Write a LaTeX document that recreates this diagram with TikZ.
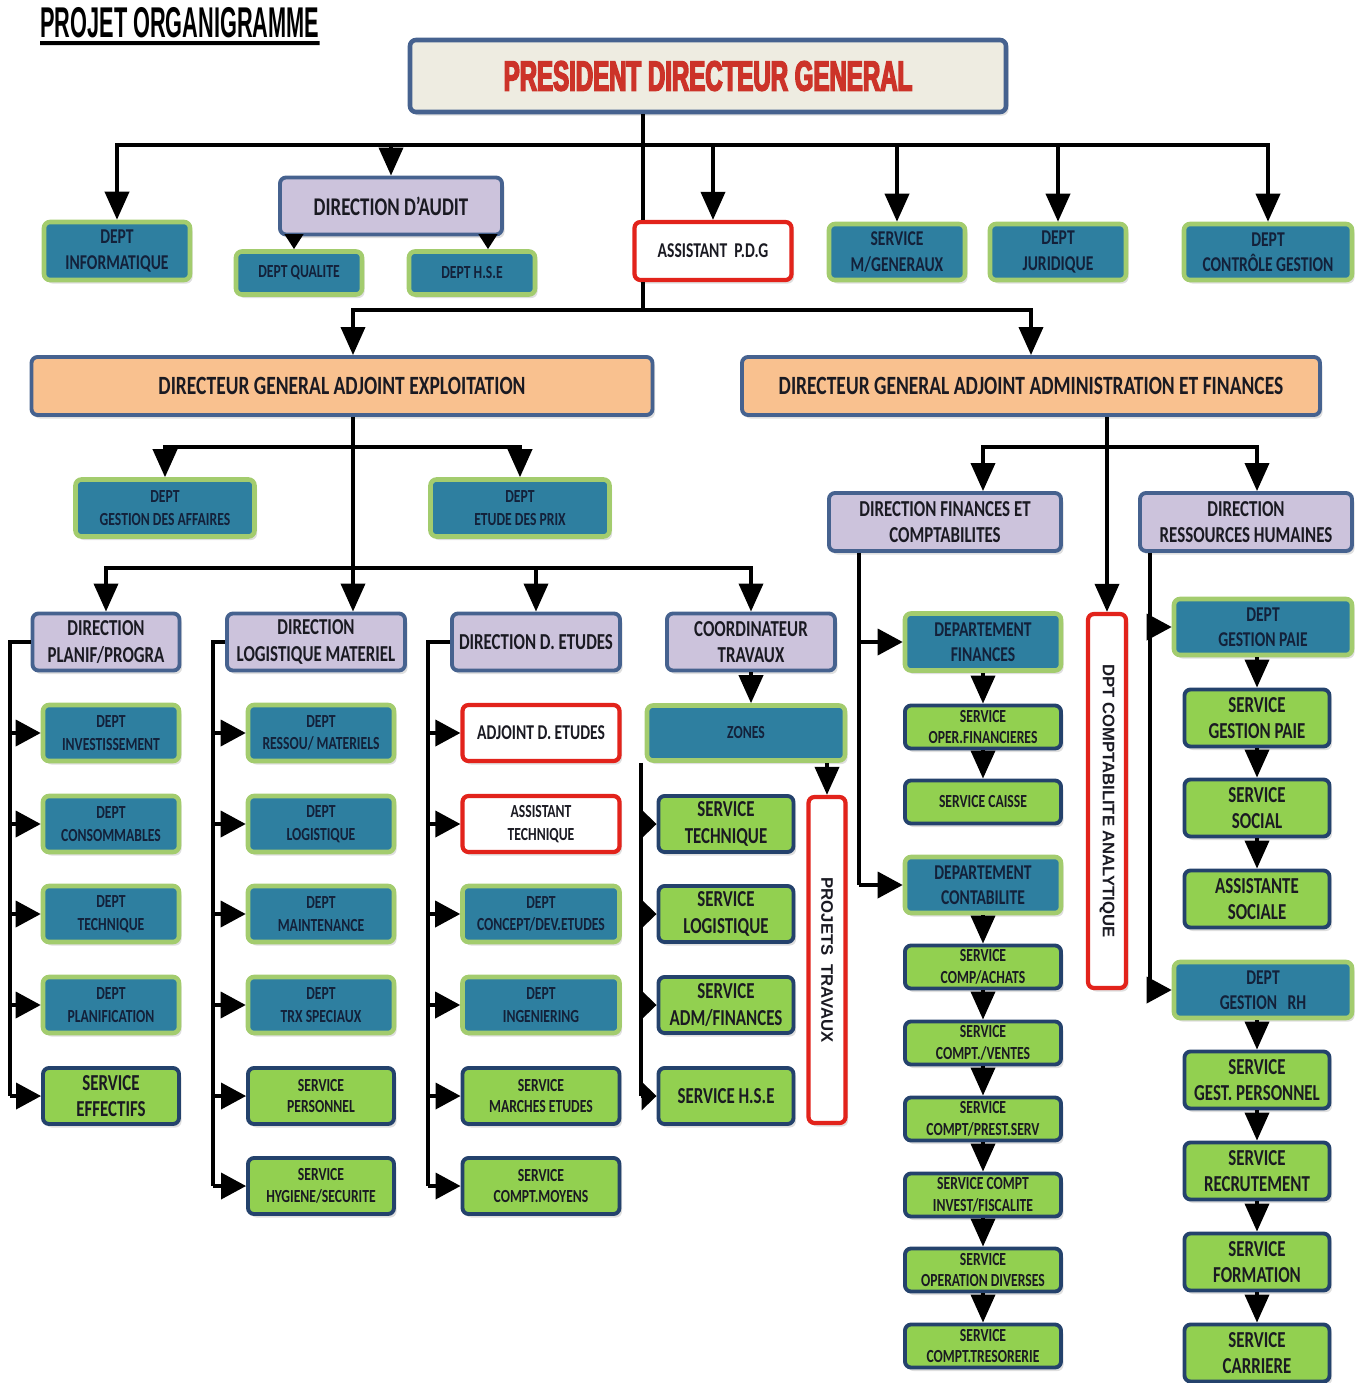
\documentclass[tikz,border=0pt]{standalone}
\usepackage{fontspec}
\setmainfont{Carlito}[FakeStretch=0.74]
\newfontfamily\titlefont{Liberation Sans}[FakeStretch=0.505]
\newfontfamily\pdgfont{Liberation Sans}[FakeStretch=0.57,FakeBold=3.5]
\newfontfamily\vertfont{Liberation Sans}
\usetikzlibrary{arrows.meta,shadows}

\definecolor{cream}{HTML}{EEECE1}
\definecolor{bordblue}{HTML}{46628F}
\definecolor{orangefill}{HTML}{F9C18F}
\definecolor{lavender}{HTML}{CCC3DC}
\definecolor{tealfill}{HTML}{2E7FA0}
\definecolor{tealedge}{HTML}{A3CC6E}
\definecolor{greenfill}{HTML}{92D050}
\definecolor{navyedge}{HTML}{24426C}
\definecolor{alertred}{HTML}{E2231B}
\definecolor{pdgred}{HTML}{CC3329}
\definecolor{inktext}{HTML}{1A1A22}
\definecolor{tealtext}{HTML}{13213A}

\begin{document}
\begin{tikzpicture}[x=0.02cm,y=-0.02cm,
  sz/.style 2 args={minimum width=#1*0.02cm,minimum height=#2*0.02cm},
  box/.style={rounded corners=0.12cm,align=center,inner sep=1pt,text=inktext,
    drop shadow={shadow xshift=0.05cm,shadow yshift=-0.07cm,opacity=0.25}},
  pdgbox/.style={box,fill=cream,draw=bordblue,line width=2.6pt},
  dgabox/.style={box,fill=orangefill,draw=bordblue,line width=2.2pt,
    font=\bfseries\fontsize{15}{18}\selectfont},
  dirbox/.style={box,fill=lavender,draw=bordblue,line width=2.2pt,
    font=\bfseries\fontsize{13}{15}\selectfont},
  deptbox/.style={box,fill=tealfill,draw=tealedge,line width=2.6pt,text=tealtext,
    font=\bfseries\fontsize{10.5}{13}\selectfont},
  deptbig/.style={deptbox,font=\bfseries\fontsize{12}{14.5}\selectfont},
  servbox/.style={box,fill=greenfill,draw=navyedge,line width=2.2pt,
    font=\bfseries\fontsize{13}{15}\selectfont},
  servsm/.style={servbox,font=\bfseries\fontsize{10.5}{12.5}\selectfont},
  asstbox/.style={box,fill=white,draw=alertred,line width=2.4pt,
    font=\bfseries\fontsize{12}{14}\selectfont},
  asstsm/.style={asstbox,font=\bfseries\fontsize{10.5}{13}\selectfont},
  ln/.style={line width=2.1pt},
  arr/.style={ln,-{Triangle[length=0.56cm,width=0.48cm]}},
  arrh/.style={ln,-{Triangle[length=0.5cm,width=0.52cm]}},
  arrs/.style={ln,-{Triangle[length=0.3cm,width=0.36cm]}},
  arrz/.style={ln,-{Triangle[length=0.3cm,width=0.56cm]}}]
\useasboundingbox (0,0) rectangle (1362,1383);

% title
\node[anchor=north west,inner sep=0pt] (ttl) at (40,7)
  {\titlefont\bfseries\fontsize{24.5}{28}\selectfont PROJET ORGANIGRAMME};
\draw[line width=0.08cm] (ttl.south west) ++(0,5) -- ([yshift=-0.1cm]ttl.south east);

% president and first row
\node[pdgbox,sz={596}{72}] (pdg) at (708,76)
  {\pdgfont\bfseries\fontsize{24}{28}\selectfont\textcolor{pdgred}{PRESIDENT DIRECTEUR GENERAL}};
\node[deptbig,sz={146}{58}] (info) at (117,251) {DEPT\\INFORMATIQUE};
\node[dirbox,sz={222}{57},font=\bfseries\fontsize{14.5}{17}\selectfont] (audit) at (391,206) {DIRECTION D’AUDIT};
\node[deptbox,sz={126}{43}] (qual) at (299,273) {DEPT QUALITE};
\node[deptbox,sz={126}{43}] (hse) at (472,273) {DEPT H.S.E};
\node[asstbox,sz={157}{58}] (asst) at (713,251) {ASSISTANT\,\ P.D.G};
\node[deptbig,sz={136}{56}] (mgen) at (897,252) {SERVICE\\M/GENERAUX};
\node[deptbig,sz={136}{56}] (jur) at (1058,252) {DEPT\\JURIDIQUE};
\node[deptbig,sz={168}{56}] (ctrl) at (1268,252) {DEPT\\CONTRÔLE GESTION};

% deputy directors
\node[dgabox,sz={621}{58}] (dgae) at (342,386) {DIRECTEUR GENERAL ADJOINT EXPLOITATION};
\node[dgabox,sz={578}{58}] (dgaa) at (1031,386) {DIRECTEUR GENERAL ADJOINT ADMINISTRATION ET FINANCES};

\node[deptbox,sz={179}{57}] (gaff) at (165,508) {DEPT\\GESTION DES AFFAIRES};
\node[deptbox,sz={179}{57}] (eprix) at (520,508) {DEPT\\ETUDE DES PRIX};
\node[dirbox,sz={232}{58}] (dfin) at (945,522) {DIRECTION FINANCES ET\\COMPTABILITES};
\node[dirbox,sz={212}{58}] (drh) at (1246,522) {DIRECTION\\RESSOURCES HUMAINES};

\node[dirbox,sz={147}{57}] (dplan) at (106,642) {DIRECTION\\PLANIF/PROGRA};
\node[dirbox,sz={178}{57}] (dlog) at (316,642) {DIRECTION\\LOGISTIQUE MATERIEL};
\node[dirbox,sz={168}{57}] (detud) at (536,642) {DIRECTION D. ETUDES};
\node[dirbox,sz={168}{57}] (coord) at (751,642) {COORDINATEUR\\TRAVAUX};

% exploitation columns
\foreach \nm/\yy/\sty/\txt in {inv/733/deptbox/{DEPT\\INVESTISSEMENT},
    cons/824/deptbox/{DEPT\\CONSOMMABLES},tech/914/deptbox/{DEPT\\TECHNIQUE},
    plan/1005/deptbox/{DEPT\\PLANIFICATION},eff/1096/servbox/{SERVICE\\EFFECTIFS}}
  {\node[\sty,sz={136}{56}] (\nm) at (111,\yy) {\txt};}
\foreach \nm/\yy/\sty/\txt in {res/733/deptbox/{DEPT\\RESSOU/ MATERIELS},
    logi/824/deptbox/{DEPT\\LOGISTIQUE},maint/914/deptbox/{DEPT\\MAINTENANCE},
    trx/1005/deptbox/{DEPT\\TRX SPECIAUX},pers/1096/servsm/{SERVICE\\PERSONNEL},
    hyg/1186/servsm/{SERVICE\\HYGIENE/SECURITE}}
  {\node[\sty,sz={146}{56}] (\nm) at (321,\yy) {\txt};}
\foreach \nm/\yy/\sty/\txt in {adj/733/asstbox/{ADJOINT D. ETUDES},
    asstec/824/asstsm/{ASSISTANT\\TECHNIQUE},conc/914/deptbox/{DEPT\\CONCEPT/DEV.ETUDES},
    ing/1005/deptbox/{DEPT\\INGENIERING},marc/1096/servsm/{SERVICE\\MARCHES ETUDES},
    cmoy/1186/servsm/{SERVICE\\COMPT.MOYENS}}
  {\node[\sty,sz={157}{56}] (\nm) at (541,\yy) {\txt};}

\node[deptbox,sz={198}{55}] (zones) at (746,733) {ZONES};
\foreach \nm/\yy/\txt in {stec/824/{SERVICE\\TECHNIQUE},slog/914/{SERVICE\\LOGISTIQUE},
    sadm/1005/{SERVICE\\ADM/FINANCES},shse/1096/{SERVICE H.S.E}}
  {\node[servbox,sz={135}{56}] (\nm) at (726,\yy) {\txt};}
\node[asstbox,rotate=-90,sz={326}{37}] (ptr) at (827,960)
  {\vertfont\bfseries\fontsize{9.5}{11}\selectfont PROJETS\enspace TRAVAUX};

% administration columns
\foreach \nm/\yy/\hh/\sty/\txt in {dfi/642/57/deptbig/{DEPARTEMENT\\FINANCES},
    sof/727/43/servsm/{SERVICE\\OPER.FINANCIERES},sca/802/43/servsm/{SERVICE CAISSE},
    dco/885/56/deptbig/{DEPARTEMENT\\CONTABILITE},sac/967/43/servsm/{SERVICE\\COMP/ACHATS},
    sve/1043/43/servsm/{SERVICE\\COMPT./VENTES},spr/1119/43/servsm/{SERVICE\\COMPT/PREST.SERV},
    sfi/1195/43/servsm/{SERVICE COMPT\\INVEST/FISCALITE},
    sod/1270/43/servsm/{SERVICE\\OPERATION DIVERSES},
    str/1346/43/servsm/{SERVICE\\COMPT.TRESORERIE}}
  {\node[\sty,sz={156}{\hh}] (\nm) at (983,\yy) {\txt};}
\node[asstbox,rotate=-90,sz={374}{38}] (dca) at (1107,801)
  {\vertfont\bfseries\fontsize{9.5}{11}\selectfont DPT COMPTABILITE ANALYTIQUE};

\node[deptbig,sz={178}{56}] (dgp) at (1263,627) {DEPT\\GESTION PAIE};
\node[deptbig,sz={178}{56}] (dgrh) at (1263,990) {DEPT\\GESTION\enspace RH};
\foreach \nm/\yy/\txt in {sgp/718/{SERVICE\\GESTION PAIE},soc/808/{SERVICE\\SOCIAL},
    asoc/899/{ASSISTANTE\\SOCIALE},sgpe/1080/{SERVICE\\GEST. PERSONNEL},
    srec/1171/{SERVICE\\RECRUTEMENT},sfor/1262/{SERVICE\\FORMATION},
    scar/1353/{SERVICE\\CARRIERE}}
  {\node[servbox,sz={145}{57}] (\nm) at (1257,\yy) {\txt};}

% connectors from the president
\coordinate (j0) at (643,145);
\coordinate (j1) at (643,310);
\draw[ln] (pdg.south -| j0) -- (j0);
\draw[ln] (j0) -- (asst.north -| j0);
\draw[ln] (asst.south -| j0) -- (j1);
\foreach \n in {info,audit,asst,mgen,jur,ctrl}
  \draw[arr] (j0) -| (\n);
\draw[arrs] ([xshift=-0.1cm]qual.north |- audit.south) -- ([xshift=-0.1cm]qual.north);
\draw[arrs] ([xshift=0.32cm]hse.north |- audit.south) -- ([xshift=0.32cm]hse.north);

% exploitation
\coordinate (e0) at (353,447);
\coordinate (e1) at (353,568);
\draw[arr] (j1) -| (dgae.north -| e0);
\draw[arr] (j1) -| (dgaa);
\draw[ln] (dgae.south -| e0) -- (e1);
\draw[arr] (e1) -- (dlog.north -| e1);
\draw[arr] (e0) -| (gaff);
\draw[arr] (e0) -| (eprix);
\foreach \n in {dplan,detud,coord}
  \draw[arr] (e1) -| (\n);

\coordinate (p0) at (10,0);
\coordinate (l0) at (213,0);
\coordinate (d0) at (428,0);
\coordinate (z0) at (641,0);
\draw[ln] (dplan.west) -| (p0 |- eff);
\foreach \n in {inv,cons,tech,plan,eff}
  \draw[arrh] (p0 |- \n) -- (\n);
\draw[ln] (dlog.west) -| (l0 |- hyg);
\foreach \n in {res,logi,maint,trx,pers,hyg}
  \draw[arrh] (l0 |- \n) -- (\n);
\draw[ln] (detud.west) -| (d0 |- cmoy);
\foreach \n in {adj,asstec,conc,ing,marc,cmoy}
  \draw[arrh] (d0 |- \n) -- (\n);
\draw[arr] (coord) -- (zones.north -| coord);
\draw[ln] (zones.south -| z0) -- (z0 |- shse);
\foreach \n in {stec,slog,sadm,shse}
  \draw[arrz] (z0 |- \n) -- (\n);
\draw[arr] (zones.south -| ptr) -- (ptr);

% administration et finances
\coordinate (a0) at (1107,447);
\coordinate (f0) at (859,0);
\coordinate (h0) at (1150,0);
\draw[ln] (dgaa.south -| a0) -- (a0);
\draw[arr] (a0) -- (dca);
\draw[arr] (a0) -| (dfin.north -| dfi);
\draw[arr] (a0) -| (drh.north -| sgp);
\draw[ln] (dfin.south -| f0) -- (f0 |- dco);
\foreach \n in {dfi,dco}
  \draw[arrh] (f0 |- \n) -- (\n);
\draw[ln] (drh.south -| h0) -- (h0 |- dgrh);
\foreach \n in {dgp,dgrh}
  \draw[arrh] (h0 |- \n) -- (\n);
\foreach \a/\b in {dfi/sof,sof/sca,dco/sac,sac/sve,sve/spr,spr/sfi,sfi/sod,sod/str,
    dgp/sgp,sgp/soc,soc/asoc,dgrh/sgpe,sgpe/srec,srec/sfor,sfor/scar}
  \draw[arr] (\a.south -| \b) -- (\b.north);
\end{tikzpicture}
\end{document}
